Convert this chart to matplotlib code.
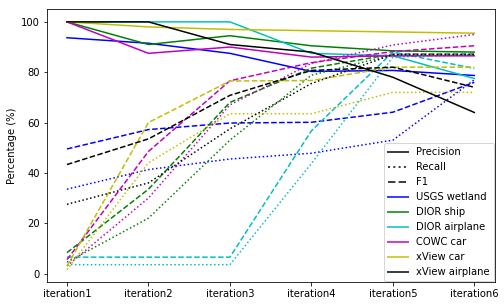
import matplotlib
matplotlib.use("Agg")
import matplotlib.pyplot as plt
from matplotlib.lines import Line2D

iterations = ["iteration1", "iteration2", "iteration3", "iteration4", "iteration5", "iteration6"]
datasets = ["USGS wetland", "DIOR ship", "DIOR airplane", "COWC car", "xView car", "xView airplane"]
colors = ["b", "g", "c", "m", "y", "k"]

precision = {
    "USGS wetland":   [93.7, 91.5, 87.5, 80.3, 80.7, 78.7],
    "DIOR ship":      [100, 91.0, 94.5, 90.5, 88.5, 88.0],
    "DIOR airplane":  [100, 100, 100, 87.5, 86.5, 77.5],
    "COWC car":       [100, 87.5, 90.0, 86.0, 86.5, 86.5],
    "xView car":      [100, 98.0, 97.0, 96.5, 96.0, 95.5],
    "xView airplane": [100, 100, 91.0, 88.0, 78.0, 64.0],
}
recall = {
    "USGS wetland":   [33.5, 41.3, 45.5, 47.8, 53.0, 77.0],
    "DIOR ship":      [4.5, 22.0, 53.0, 78.8, 87.0, 87.0],
    "DIOR airplane":  [3.5, 3.5, 3.5, 43.7, 86.0, 87.0],
    "COWC car":       [3.0, 30.0, 67.0, 83.5, 90.8, 95.0],
    "xView car":      [1.5, 44.0, 63.5, 63.5, 72.0, 72.0],
    "xView airplane": [27.5, 36.0, 57.5, 75.5, 87.0, 87.0],
}
f1 = {
    "USGS wetland":   [49.5, 57.2, 59.8, 60.1, 64.1, 76.0],
    "DIOR ship":      [8.3, 33.5, 68.0, 81.6, 87.2, 87.2],
    "DIOR airplane":  [6.5, 6.5, 6.5, 56.7, 88.0, 81.5],
    "COWC car":       [5.5, 48.5, 76.6, 83.8, 88.2, 90.5],
    "xView car":      [3.0, 60.0, 76.5, 76.7, 82.0, 82.0],
    "xView airplane": [43.3, 53.5, 70.8, 80.7, 82.0, 74.0],
}

fig = plt.figure(figsize=(7, 4.25), dpi=72)
ax = fig.add_axes([0.0925, 0.078, 0.889, 0.891])
x = list(range(len(iterations)))
for name, col in zip(datasets, colors):
    ax.plot(x, precision[name], color=col, linestyle="-", lw=1.5)
    ax.plot(x, recall[name], color=col, linestyle=":", lw=1.5)
    ax.plot(x, f1[name], color=col, linestyle="--", lw=1.5)

ax.set_xticks(x)
ax.set_xticklabels(iterations)
ax.set_ylabel("Percentage (%)")

handles = [
    Line2D([], [], color="k", linestyle="-", lw=2, alpha=0.75, label="Precision"),
    Line2D([], [], color="k", linestyle=":", lw=2, alpha=0.75, label="Recall"),
    Line2D([], [], color="k", linestyle="--", lw=2, alpha=0.75, label="F1"),
]
for name, col in zip(datasets, colors):
    handles.append(Line2D([], [], color=col, linestyle="-", lw=2, alpha=0.75, label=name))
ax.legend(handles=handles, loc="lower right", framealpha=0.8, borderaxespad=0.1)

fig.savefig("out.png", dpi=72)
